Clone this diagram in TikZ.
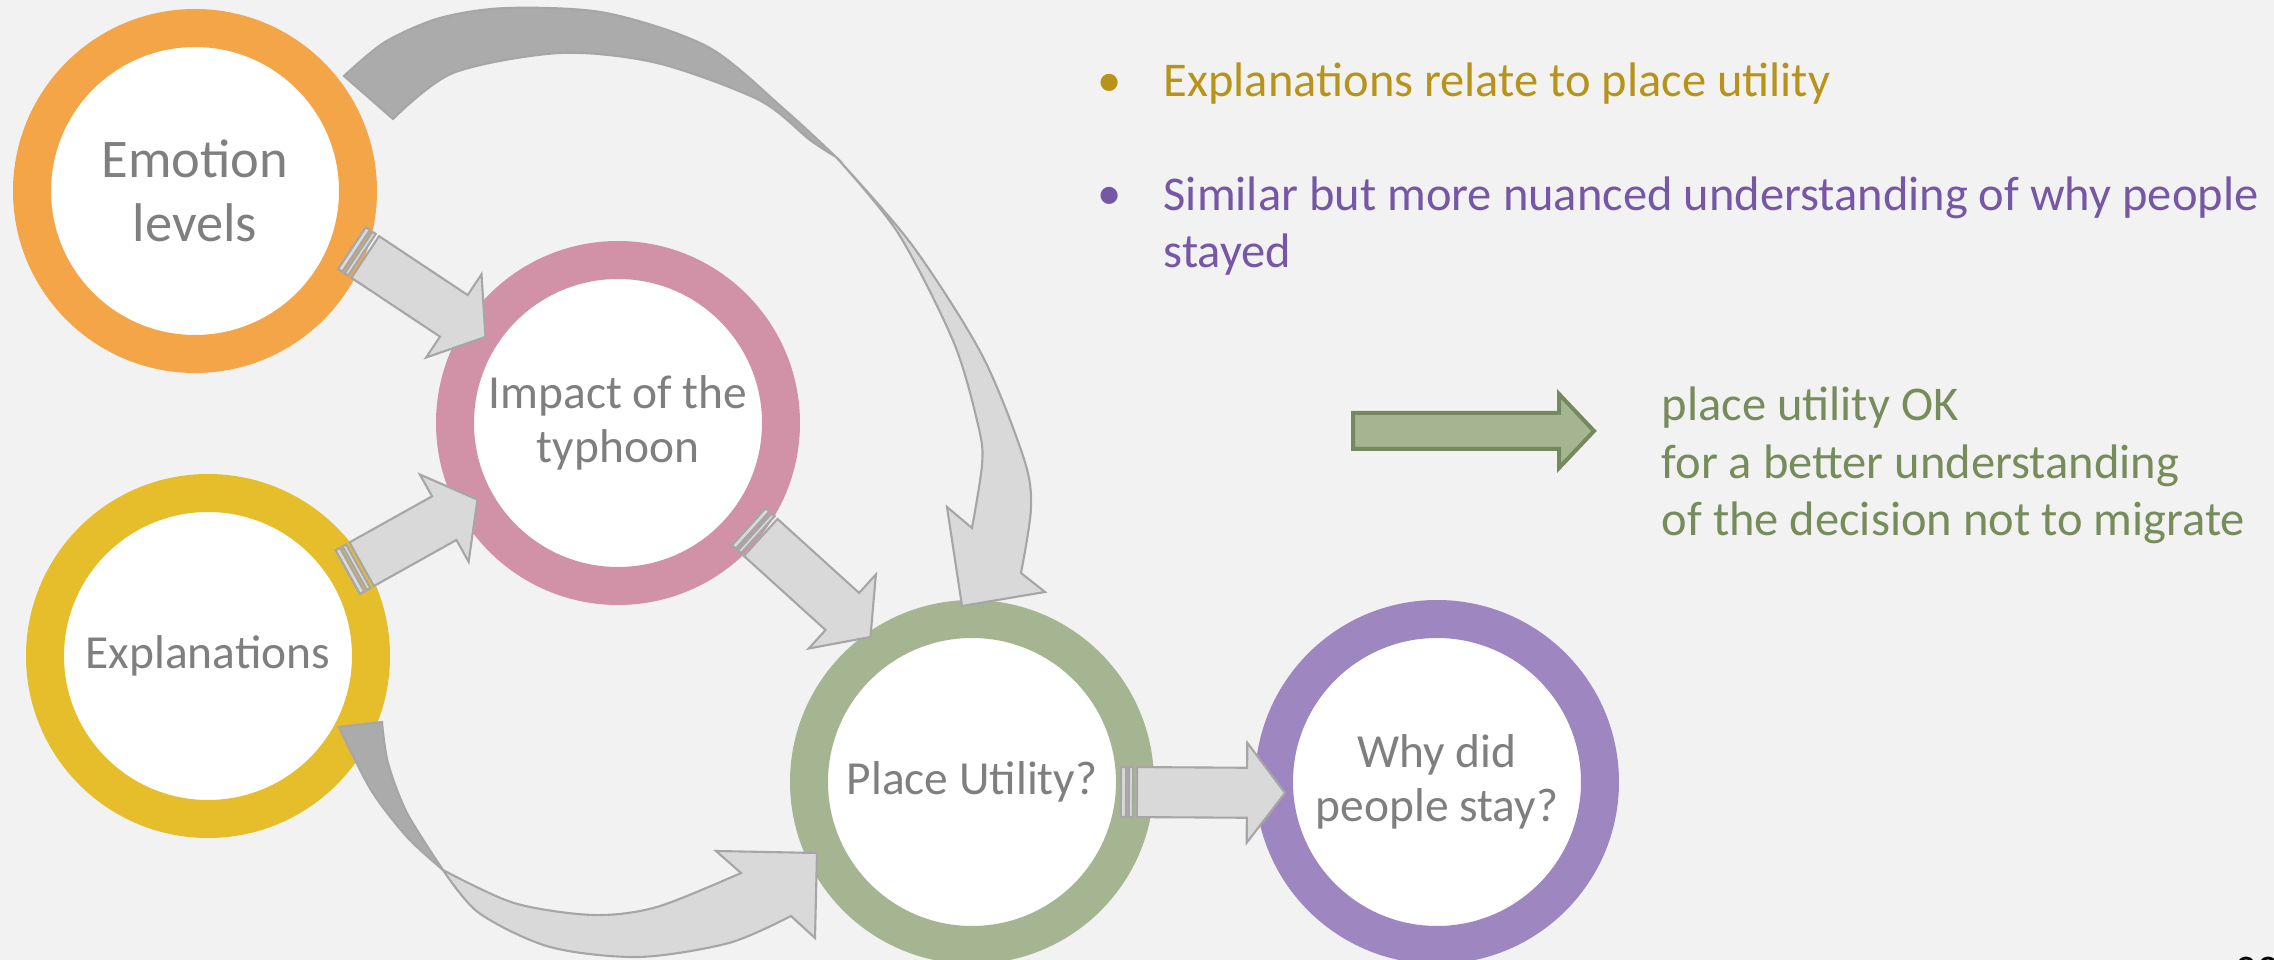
\documentclass[tikz,border=0pt]{standalone}
\usepackage{fontspec}
\setmainfont{Carlito}
\usetikzlibrary{positioning,calc}

\definecolor{slidebg}{HTML}{F2F2F2}
\definecolor{ringorange}{HTML}{F3A548}
\definecolor{ringpink}{HTML}{D192A7}
\definecolor{ringyellow}{HTML}{E6BD2A}
\definecolor{ringgreen}{HTML}{A5B592}
\definecolor{ringpurple}{HTML}{9E86C1}
\definecolor{ringtext}{HTML}{7F7F7F}
\definecolor{arrowfill}{HTML}{D9D9D9}
\definecolor{arrowline}{HTML}{A6A6A6}
\definecolor{arrowback}{HTML}{ABABAB}
\definecolor{okgreen}{HTML}{76885E}
\definecolor{goldtext}{HTML}{B8931A}
\definecolor{purpletext}{HTML}{7657A6}
\definecolor{greentext}{HTML}{768C5A}

% striped block arrow from #1 to #2
\newcommand{\stripedarrow}[2]{%
  \path[arrowbody] let \p1=(#1), \p2=(#2),
    \n1={atan2(\y2-\y1,\x2-\x1)}, \n2={veclen(\x2-\x1,\y2-\y1)} in
    [shift={(\p1)}, rotate=\n1]
    (0cm,-0.25cm) rectangle (0.05cm,0.25cm)
    (0.08cm,-0.25cm) rectangle (0.12cm,0.25cm)
    (0.16cm,-0.25cm) -- (\n2-0.38cm,-0.25cm) -- (\n2-0.38cm,-0.5cm)
    -- (\n2,0cm) -- (\n2-0.38cm,0.5cm) -- (\n2-0.38cm,0.25cm)
    -- (0.16cm,0.25cm) -- cycle;}

\begin{document}
\begin{tikzpicture}[
  x=0.1mm, y=0.1mm,
  ring/.style={circle, draw, line width=3.8mm, fill=white, minimum size=32.6mm,
    inner sep=0pt, outer sep=0pt, align=center, text=ringtext,
    font=\fontsize{13.5}{15.3}\selectfont},
  arrowbody/.style={fill=arrowfill, draw=arrowline, line width=0.6pt},
  arrowrear/.style={fill=arrowback, draw=arrowline, line width=0.6pt},
  bulletmark/.style={font=\fontsize{13.8}{16.4}\selectfont, anchor=base, inner sep=0pt},
  itemtext/.style={font=\fontsize{13.8}{16.4}\selectfont, anchor=base west, inner sep=0pt, align=left}
]
\fill[slidebg] (0,0) rectangle (2274,960);
\useasboundingbox (0,0) rectangle (2274,960);

\node[ring, draw=ringorange, font=\fontsize{15.5}{18.3}\selectfont] (emotion) at (195,769) {Emotion\\levels};
\node[ring, draw=ringpink] (impact) at (618,537) {Impact of the\\typhoon};
\node[ring, draw=ringyellow] (explan) at (208,304) {Explanations};
\node[ring, draw=ringgreen] (place) at (972,178) {Place Utility?};
\node[ring, draw=ringpurple, right of=place, node distance=46.5mm] (why) {Why did\\people stay?};

\stripedarrow{$(emotion)+(-20:167)$}{$(impact)+(147:158)$}
\stripedarrow{$(explan)+(31:163)$}{$(impact)+(208.6:160)$}
\stripedarrow{$(impact)+(-38.4:167)$}{$(place)+(125:177)$}
\stripedarrow{$(place)+(149,-10)$}{$(why)+(-152,-11)$}

% curved arrow over the top
\draw[arrowrear] plot[smooth] coordinates {(344,884) (385,918) (440,942) (507,952) (606,947) (708,913) (785,850) (836,803)}
  -- plot[smooth] coordinates {(836,803) (810,820) (759,860) (657,897) (560,907) (453,887) (393,841)} -- cycle;
\draw[arrowbody] plot[smooth] coordinates {(836,803) (912,715) (982,605) (1024,501) (1031,452) (1021,387)}
  -- (1045,368) -- (962,354) -- (947,453) -- (972,432)
  -- plot[smooth] coordinates {(972,432) (982,495) (979,531) (954,617) (898,727) (836,803)} -- cycle;

% curved arrow along the bottom
\draw[arrowrear] plot[smooth] coordinates {(339,233) (371,170) (407,123) (443,90)}
  -- plot[smooth] coordinates {(443,90) (407,147) (388,197) (382,238)} -- cycle;
\draw[arrowbody] plot[smooth] coordinates {(443,90) (514,57) (593,45) (657,53) (741,87)}
  -- (716,109) -- (817,107) -- (815,22) -- (791,44)
  -- plot[smooth] coordinates {(791,44) (729,17) (639,3) (550,13) (479,47) (443,90)} -- cycle;

\node[bulletmark, text=goldtext] (dot1) at (1110,863) {•};
\node[itemtext, text=goldtext] (item1) at (1163,863) {Explanations relate to place utility};
\node[bulletmark, text=purpletext] (dot2) at (1110,750) {•};
\node[itemtext, text=purpletext] (item2) at (1163,692) {Similar but more nuanced understanding of why people\\stayed};

\draw[fill=ringgreen, draw=okgreen, line width=0.4mm] (1353,511) -- (1559,511) -- (1559,492) -- (1594,529)
  -- (1559,566) -- (1559,547) -- (1353,547) -- cycle;
\node[itemtext, text=greentext] (verdict) at (1661,424)
  {place utility OK\\for a better understanding\\of the decision not to migrate};

\node[anchor=north west, inner sep=0pt, font=\fontsize{12}{14}\selectfont] (pagenum) at (2235,4) {22};
\end{tikzpicture}
\end{document}
